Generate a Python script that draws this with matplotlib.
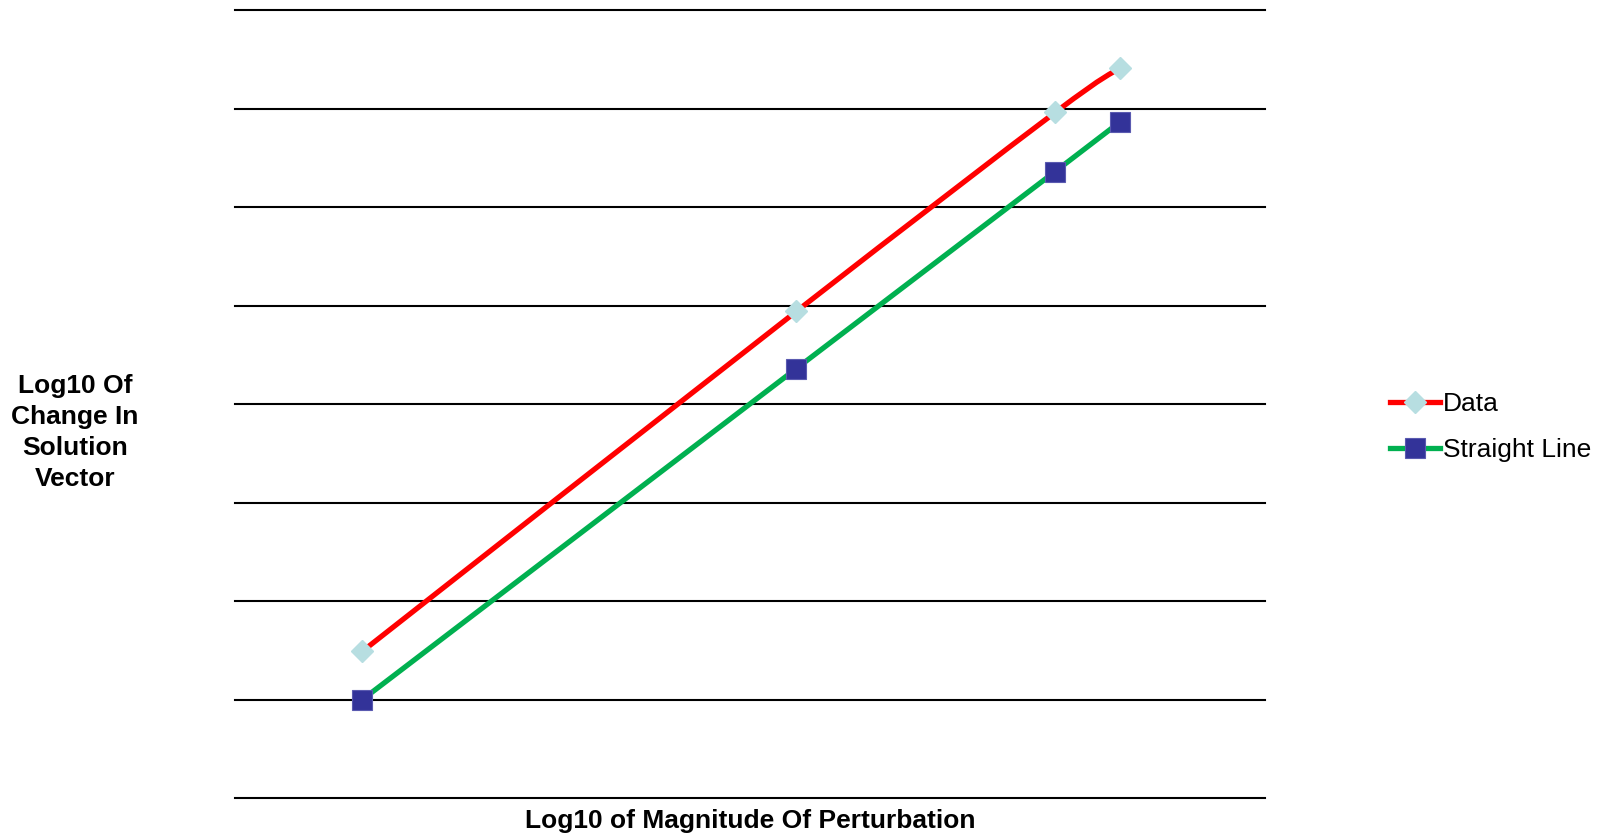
import matplotlib
matplotlib.use('Agg')
import matplotlib.pyplot as plt
from matplotlib.path import Path
from matplotlib.patches import PathPatch
from matplotlib.lines import Line2D
import numpy as np

plt.rcParams['font.family'] = ['Liberation Sans', 'DejaVu Sans']

# log10 of perturbation size vs log10 of change (axis units, no tick labels shown)
log_perturbation = [0.99, 4.36, 6.37, 6.87]
data_change = [1.49, 4.94, 6.96, 7.41]
straight_change = [1.00, 4.36, 6.36, 6.86]

RED = '#FF0000'
GREEN = '#00B050'
DIAMOND = '#B7DEE1'
SQUARE = '#333399'
FS = 19


def smooth_path(xs, ys):
    # Catmull-Rom style cubic Bezier through the points (like a spreadsheet "smoothed line")
    pts = np.column_stack([xs, ys]).astype(float)
    n = len(pts)
    verts = [pts[0]]
    codes = [Path.MOVETO]
    for i in range(n - 1):
        p0 = pts[i - 1] if i > 0 else pts[i]
        p1 = pts[i]
        p2 = pts[i + 1]
        p3 = pts[i + 2] if i + 2 < n else pts[i + 1]
        c1 = p1 + (p2 - p0) / 6.0
        c2 = p2 - (p3 - p1) / 6.0
        verts += [c1, c2, p2]
        codes += [Path.CURVE4] * 3
    return Path(verts, codes)


fig = plt.figure(figsize=(16.09, 8.34), dpi=100)
ax = fig.add_axes([235 / 1609, 36 / 834, 1030 / 1609, 788 / 834])
ax.set_xlim(0, 8)
ax.set_ylim(0, 8)

for y in range(0, 9):
    ax.axhline(y, color='black', linewidth=1.5, clip_on=False, zorder=1)

ax.add_patch(PathPatch(smooth_path(log_perturbation, data_change), facecolor='none',
                       edgecolor=RED, linewidth=3.8, capstyle='round', zorder=2))
ax.plot(log_perturbation, straight_change, color=GREEN, linewidth=3.8, zorder=2)
ax.plot(log_perturbation, data_change, linestyle='none', marker='D', markersize=11.5,
        markerfacecolor=DIAMOND, markeredgecolor=DIAMOND, zorder=3, clip_on=False)
ax.plot(log_perturbation, straight_change, linestyle='none', marker='s', markersize=14,
        markerfacecolor=SQUARE, markeredgecolor='#5A5AB0', markeredgewidth=0.8,
        zorder=3, clip_on=False)

ax.set_xticks([])
ax.set_yticks([])
for s in ax.spines.values():
    s.set_visible(False)

fig.text(750 / 1609, 1 - 821 / 834, 'Log10 of Magnitude Of Perturbation',
         ha='center', va='center', fontsize=FS, fontweight='bold')
fig.text(75 / 1609, 1 - 432.5 / 834, 'Log10 Of\nChange In\nSolution\nVector',
         ha='center', va='center', fontsize=FS, fontweight='bold', linespacing=1.36)

handles = [
    Line2D([], [], color=RED, linewidth=3.8, marker='D', markersize=11.5,
           markerfacecolor=DIAMOND, markeredgecolor=DIAMOND),
    Line2D([], [], color=GREEN, linewidth=3.8, marker='s', markersize=14,
           markerfacecolor=SQUARE, markeredgecolor='#5A5AB0', markeredgewidth=0.8),
]
fig.legend(handles, ['Data', 'Straight Line'], loc='center left',
           bbox_to_anchor=(1377 / 1609, 1 - 427 / 834), frameon=False,
           fontsize=FS, handlelength=1.9, handletextpad=0.1, labelspacing=0.85,
           borderpad=0)

fig.savefig('out.png', dpi=100)
